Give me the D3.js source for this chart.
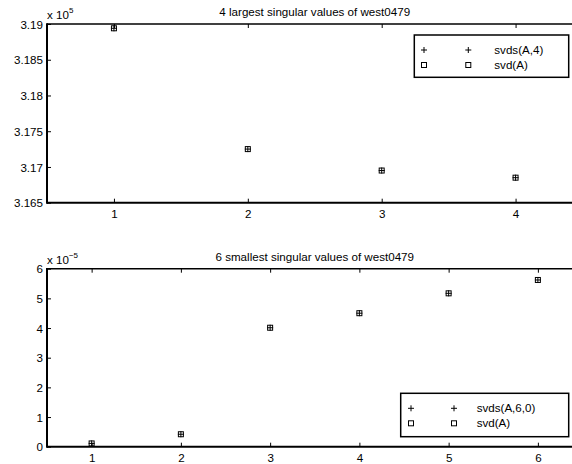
<!DOCTYPE html>
<html>
<head>
<meta charset="utf-8">
<script src="https://cdn.jsdelivr.net/npm/d3@7"></script>
<style>
  html, body { margin: 0; padding: 0; background: #fff; }
  svg { display: block; font-family: "Liberation Sans", Arial, Helvetica, sans-serif; }
</style>
</head>
<body>
<div id="chart"></div>
<script>
// ---------- data ----------
const largestIndex = [1, 2, 3, 4];
const svdsLargest = [3.1894, 3.1725, 3.1695, 3.1685];   // x 10^5
const svdLargest  = [3.1894, 3.1725, 3.1695, 3.1685];   // x 10^5
const largestYTicks = [3.165, 3.17, 3.175, 3.18, 3.185, 3.19];
const largestYTickLabels = ["3.165", "3.17", "3.175", "3.18", "3.185", "3.19"];

const smallestIndex = [1, 2, 3, 4, 5, 6];
const svdsSmallest = [0.11, 0.42, 4.01, 4.50, 5.17, 5.62]; // x 10^-5
const svdSmallest  = [0.11, 0.42, 4.01, 4.50, 5.17, 5.62]; // x 10^-5
const smallestYTicks = [0, 1, 2, 3, 4, 5, 6];
const smallestYTickLabels = ["0", "1", "2", "3", "4", "5", "6"];

const titles = ["4 largest singular values of west0479", "6 smallest singular values of west0479"];
const legendTop = ["svds(A,4)", "svd(A)"];
const legendBottom = ["svds(A,6,0)", "svd(A)"];

// ---------- drawing ----------
const W = 572, H = 464;
const FS = 11.6;
const svg = d3.select("#chart").append("svg").attr("width", W).attr("height", H);

function drawPanel(cfg) {
  const g = svg.append("g");
  const x = d3.scaleLinear().domain(cfg.xDomain).range([cfg.left, cfg.right]);
  const y = d3.scaleLinear().domain(cfg.yDomain).range([cfg.bottom, cfg.top]);

  // bottom axis
  const xb = g.append("g").attr("transform", `translate(0,${cfg.bottom})`)
    .call(d3.axisBottom(x).tickValues(cfg.xTicks).tickFormat(d3.format("d"))
      .tickSizeInner(-4).tickSizeOuter(0).tickPadding(0));
  xb.select(".domain").remove();
  xb.selectAll(".tick line").attr("stroke", "#000").attr("stroke-width", 1);
  xb.selectAll(".tick text").attr("dy", null).attr("y", 15).attr("font-size", FS).attr("fill", "#000");

  // top axis
  const xt = g.append("g").attr("transform", `translate(0,${cfg.top})`)
    .call(d3.axisTop(x).tickValues(cfg.xTicks).tickFormat("")
      .tickSizeInner(-4).tickSizeOuter(0));
  xt.select(".domain").remove();
  xt.selectAll(".tick line").attr("stroke", "#000").attr("stroke-width", 1);

  // left axis
  const yl = g.append("g").attr("transform", `translate(${cfg.left},0)`)
    .call(d3.axisLeft(y).tickValues(cfg.yTicks).tickFormat((d, i) => cfg.yLabels[i])
      .tickSizeInner(-4).tickSizeOuter(0).tickPadding(4));
  yl.select(".domain").remove();
  yl.selectAll(".tick line").attr("stroke", "#000").attr("stroke-width", 1);
  yl.selectAll(".tick text").attr("font-size", FS).attr("fill", "#000").attr("dy", "0.36em");

  // axis lines (thick)
  g.append("line").attr("x1", cfg.left).attr("x2", cfg.right + 5)
    .attr("y1", cfg.bottom).attr("y2", cfg.bottom).attr("stroke", "#000").attr("stroke-width", 2);
  g.append("line").attr("x1", cfg.left).attr("x2", cfg.right + 5)
    .attr("y1", cfg.top).attr("y2", cfg.top).attr("stroke", "#000").attr("stroke-width", 1.5);
  g.append("line").attr("x1", cfg.left).attr("x2", cfg.left)
    .attr("y1", cfg.top - 0.75).attr("y2", cfg.bottom + 1).attr("stroke", "#000").attr("stroke-width", 2);

  // exponent label
  const ex = g.append("text").attr("x", cfg.left).attr("y", cfg.top - 5)
    .attr("font-size", FS).attr("fill", "#000");
  ex.append("tspan").text("x 10");
  ex.append("tspan").attr("dy", -6).attr("font-size", 8).text(cfg.exponent);

  // title
  g.append("text").attr("x", (cfg.left + cfg.right) / 2).attr("y", cfg.top - 8)
    .attr("text-anchor", "middle").attr("font-size", FS).attr("fill", "#000").text(cfg.title);

  // markers
  const sq = g.append("g");
  sq.selectAll("rect").data(cfg.svd).join("rect")
    .attr("x", (d, i) => x(cfg.idx[i]) - 2.5).attr("y", d => y(d) - 2.5)
    .attr("width", 5).attr("height", 5).attr("fill", "none").attr("stroke", "#000").attr("stroke-width", 1);
  const pl = g.append("g");
  pl.selectAll("path").data(cfg.svds).join("path")
    .attr("d", (d, i) => {
      const cx = x(cfg.idx[i]), cy = y(d);
      return `M${cx - 3},${cy}H${cx + 3}M${cx},${cy - 3}V${cy + 3}`;
    })
    .attr("fill", "none").attr("stroke", "#000").attr("stroke-width", 1);

  // legend
  const L = cfg.legend;
  g.append("rect").attr("x", L.x0).attr("y", L.y0).attr("width", L.x1 - L.x0).attr("height", L.y1 - L.y0)
    .attr("fill", "#fff").attr("stroke", "#000").attr("stroke-width", 1.5);
  L.labels.forEach((lab, i) => {
    const cy = L.rowY[i];
    [L.m1, L.m2].forEach(mx => {
      if (i === 0) {
        g.append("path").attr("d", `M${mx - 3},${cy}H${mx + 3}M${mx},${cy - 3}V${cy + 3}`)
          .attr("stroke", "#000").attr("stroke-width", 1).attr("fill", "none");
      } else {
        g.append("rect").attr("x", mx - 2.5).attr("y", cy - 2.5).attr("width", 5).attr("height", 5)
          .attr("fill", "none").attr("stroke", "#000").attr("stroke-width", 1);
      }
    });
    g.append("text").attr("x", L.tx).attr("y", cy).attr("dy", "0.36em")
      .attr("font-size", FS).attr("fill", "#000").text(lab);
  });
}

drawPanel({
  left: 47, right: 582.5, top: 24, bottom: 202.7,
  xDomain: [0.5, 4.5], yDomain: [3.165, 3.19],
  xTicks: largestIndex, yTicks: largestYTicks, yLabels: largestYTickLabels,
  idx: largestIndex, svds: svdsLargest, svd: svdLargest,
  exponent: "5", title: titles[0],
  legend: { x0: 414.3, x1: 568.7, y0: 35, y1: 77.3, m1: 424, m2: 468.3, tx: 494.3, rowY: [50, 65], labels: legendTop }
});

drawPanel({
  left: 47, right: 582.5, top: 268.7, bottom: 446.7,
  xDomain: [0.5, 6.5], yDomain: [0, 6],
  xTicks: smallestIndex, yTicks: smallestYTicks, yLabels: smallestYTickLabels,
  idx: smallestIndex, svds: svdsSmallest, svd: svdSmallest,
  exponent: "\u22125", title: titles[1],
  legend: { x0: 400.7, x1: 568.7, y0: 393.3, y1: 436.7, m1: 411, m2: 454, tx: 476.7, rowY: [408.3, 423.3], labels: legendBottom }
});
</script>
</body>
</html>
